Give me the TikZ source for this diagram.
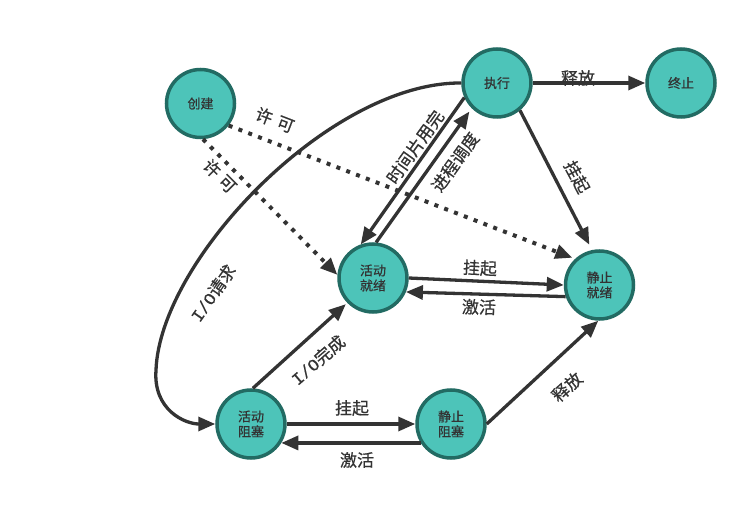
\documentclass[tikz,border=0pt]{standalone}
\usepackage{fontspec}
\setmainfont{Noto Sans CJK SC}
\newfontfamily\lblfont[FakeBold=0.6]{Noto Sans CJK SC}
\newfontfamily\monof[FakeBold=0.4]{Liberation Mono}
\usetikzlibrary{arrows.meta}
\definecolor{tealfill}{HTML}{4DC4B9}
\definecolor{tealdraw}{HTML}{226B63}
\definecolor{ink}{HTML}{333333}
\begin{document}
\begin{tikzpicture}[x=1pt,y=-1pt,
 state/.style={circle,draw=tealdraw,fill=tealfill,line width=3.5pt,minimum size=68pt,inner sep=0pt,align=center,font=\lblfont\fontsize{13}{15}\selectfont,text=ink},
 arr/.style={draw=ink,line width=3.3pt,-{Triangle[length=17pt,width=14pt]}},
 dotarr/.style={draw=ink,line width=4pt,dash pattern=on 4pt off 6.5pt,-{Triangle[length=17pt,width=14pt]}},
 lbl/.style={font=\lblfont\fontsize{17}{19}\selectfont,text=ink,inner sep=0pt}
]
\useasboundingbox (0,0) rectangle (748,513);
\node[state] (cj) at (200.5,103.5) {创建};
\node[state] (zx) at (497,83) {执行};
\node[state] (zz) at (681,83) {终止};
\node[state] (hj) at (373,278) {活动\\就绪};
\node[state] (jj) at (599.5,285) {静止\\就绪};
\node[state] (hz) at (251,424) {活动\\阻塞};
\node[state] (jz) at (451,424) {静止\\阻塞};

\draw[arr] (zx.east) -- (zz.west);
\draw[arr,shorten >=6pt] (zx.-50) -- (jj.102);
\draw[arr] (zx.204) -- (hj.110);
\draw[arr,shorten >=4pt] (hj.85) -- (zx.225);
\draw[dotarr,shorten >=3pt] (cj.-38) -- (jj.133);
\draw[dotarr] (cj.-86) -- (hj.175);
\draw[arr] (zx.west) .. controls (330,82) and (160,260) .. (156,370) .. controls (153,410) and (185,424) .. (hz.west);
\draw[arr,shorten >=2pt] (hz.87) -- (hj.224);
\draw[arr] (hj.east) -- (jj.west);
\draw[arr] (jj.199) -- (hj.-23);
\draw[arr] (hz.east) -- (jz.west);
\draw[arr] (jz.-148) -- (hz.-32);
\draw[arr] (jz.east) -- (jj.-92);

\node[lbl] (l1) at (578,78) {释放};
\node[lbl,rotate=-62] (l2) at (577,177) {挂起};
\node[lbl,rotate=54.5] (l3) at (415,147) {时间片用完};
\node[lbl,rotate=54.5] (l4) at (455,162) {进程调度};
\node[lbl,rotate=-21] (l5) at (275,120) {许\hspace{6pt}可};
\node[lbl,rotate=-45] (l6) at (220,176) {许\hspace{5pt}可};
\node[lbl,rotate=55] (l7) at (213,293) {{\monof I/O}请求};
\node[lbl,rotate=41] (l8) at (318,360) {{\monof I/O}完成};
\node[lbl,rotate=-2.6] (l9) at (480,268) {挂起};
\node[lbl,rotate=-1.5] (l10) at (479,307) {激活};
\node[lbl] (l11) at (352,408) {挂起};
\node[lbl] (l12) at (357,460) {激活};
\node[lbl,rotate=42] (l13) at (567,387) {释放};
\end{tikzpicture}
\end{document}
